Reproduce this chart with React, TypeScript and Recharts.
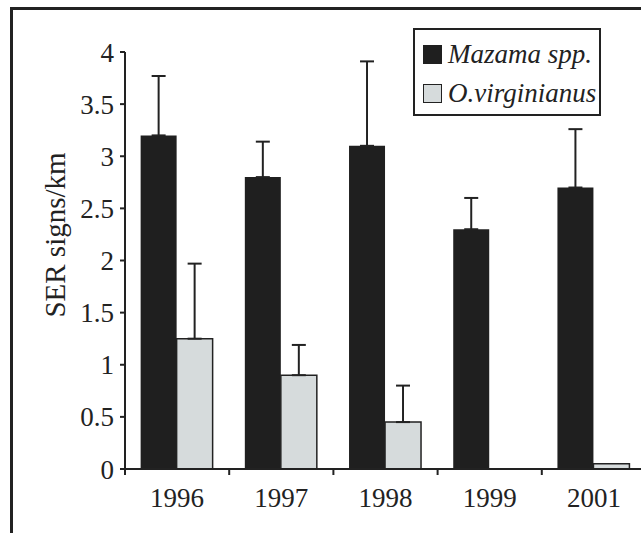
import { Bar, BarChart, ErrorBar, XAxis, YAxis } from "recharts";

const YEARS = ["1996", "1997", "1998", "1999", "2001"];
const MAZAMA = [3.2, 2.8, 3.1, 2.3, 2.7];
const MAZAMA_ERR = [0.57, 0.34, 0.81, 0.3, 0.56];
const VIRGINIANUS = [1.25, 0.9, 0.45, 0, 0.05];
const VIRGINIANUS_ERR: (number | null)[] = [0.72, 0.29, 0.35, null, null];
const Y_TICKS = [0, 0.5, 1, 1.5, 2, 2.5, 3, 3.5, 4];

const data = YEARS.map((year, i) => ({
  year,
  mazama: MAZAMA[i],
  mazamaErr: [0, MAZAMA_ERR[i]],
  virginianus: VIRGINIANUS[i],
  virginianusErr: VIRGINIANUS_ERR[i] == null ? null : [0, VIRGINIANUS_ERR[i]]
}));

const FONT = "Liberation Serif, DejaVu Serif";
const INK = "#222";
const DARK = "#1f1f1f";
const LIGHT = "#d6dbdc";

const CHART_W = 660;
const CHART_H = 533;
const MARGIN = { top: 52, right: 14, left: 0, bottom: 0 };
const Y_AXIS_W = 125;
const BAND_HALF = (CHART_W - MARGIN.left - MARGIN.right - Y_AXIS_W) / YEARS.length / 2;

function YearTick(props: any) {
  const { x, y, payload } = props;
  const half = typeof payload?.offset === "number" && payload.offset > 0 ? payload.offset : BAND_HALF;
  return (
    <g>
      <line x1={x - half} x2={x - half} y1={y - 6} y2={y} stroke={INK} strokeWidth={2} />
      <text x={x} y={y + 32} textAnchor="middle" style={{ fontFamily: FONT }} fontSize={27} fill={INK}>
        {payload.value}
      </text>
    </g>
  );
}

function Swatch({ color, stroked }: { color: string; stroked?: boolean }) {
  return (
    <span
      style={{
        display: "inline-block",
        width: 19,
        height: 19,
        background: color,
        border: `1.5px solid ${stroked ? INK : DARK}`,
        marginRight: 6,
        boxSizing: "border-box"
      }}
    />
  );
}

export default function App() {
  return (
    <div
      style={{
        position: "fixed",
        left: 0,
        top: 0,
        width: 641,
        height: 533,
        overflow: "hidden",
        background: "#fff",
        fontFamily: FONT
      }}
    >
      <div
        style={{
          position: "absolute",
          left: 10,
          top: 7,
          width: 700,
          height: 600,
          borderLeft: `3px solid ${INK}`,
          borderTop: `3px solid ${INK}`
        }}
      />
      <BarChart
        width={CHART_W}
        height={CHART_H}
        data={data}
        margin={MARGIN}
        barCategoryGap="15%"
        barGap={0}
        style={{ fontFamily: FONT }}
      >
        <XAxis
          dataKey="year"
          height={64}
          tickSize={6}
          tickMargin={0}
          tickLine={false}
          axisLine={{ stroke: INK, strokeWidth: 2 }}
          tick={<YearTick />}
          interval={0}
        />
        <YAxis
          width={Y_AXIS_W}
          domain={[0, 4]}
          ticks={Y_TICKS}
          interval={0}
          tickSize={5}
          tickMargin={6}
          axisLine={{ stroke: INK, strokeWidth: 2 }}
          tickLine={{ stroke: INK, strokeWidth: 2 }}
          tick={{ fontFamily: FONT, fontSize: 27, fill: INK }}
          label={{
            content: () => (
              <text
                x={55}
                y={235}
                transform="rotate(-90 55 235)"
                textAnchor="middle"
                dominantBaseline="central"
                style={{ fontFamily: FONT }}
                fontSize={29}
                fill={INK}
              >
                SER signs/km
              </text>
            )
          }}
        />
        <Bar dataKey="mazama" fill={DARK} isAnimationActive={false}>
          <ErrorBar dataKey="mazamaErr" direction="y" width={7} stroke={INK} strokeWidth={2} />
        </Bar>
        <Bar
          dataKey="virginianus"
          fill={LIGHT}
          stroke={INK}
          strokeWidth={1.5}
          isAnimationActive={false}
        >
          <ErrorBar dataKey="virginianusErr" direction="y" width={7} stroke={INK} strokeWidth={2} />
        </Bar>
      </BarChart>
      <div
        style={{
          position: "absolute",
          left: 413,
          top: 28,
          width: 188,
          height: 88,
          boxSizing: "border-box",
          border: `2.5px solid ${INK}`,
          background: "#fff",
          fontStyle: "italic",
          fontSize: 27,
          color: INK,
          padding: "5px 0 0 8px",
          lineHeight: "39px",
          whiteSpace: "nowrap"
        }}
      >
        <div style={{ display: "flex", alignItems: "center" }}>
          <Swatch color={DARK} />
          Mazama spp.
        </div>
        <div style={{ display: "flex", alignItems: "center" }}>
          <Swatch color={LIGHT} stroked />
          O.virginianus
        </div>
      </div>
    </div>
  );
}
